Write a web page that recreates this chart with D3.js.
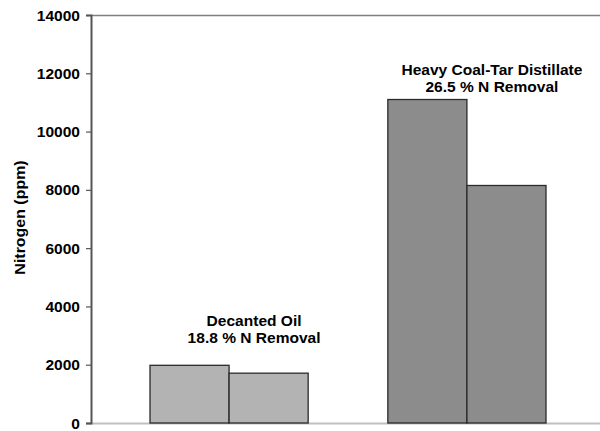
<!DOCTYPE html>
<html>
<head>
<meta charset="utf-8">
<script src="https://cdn.jsdelivr.net/npm/d3@7"></script>
<style>
  html, body { margin: 0; padding: 0; background: #fff; }
  svg { display: block; }
  text { font-family: "Liberation Sans", Arial, sans-serif; font-weight: bold; fill: #000; }
</style>
</head>
<body>
<svg id="chart" width="600" height="431"></svg>
<script>
const categories = ["Decanted Oil", "Heavy Coal-Tar Distillate"];
const seriesNames = ["Feed", "Treated"];
const feedValues = [1980, 11100];
const treatedValues = [1710, 8150];
const annotations = [["Decanted Oil", "18.8 % N Removal"], ["Heavy Coal-Tar Distillate", "26.5 % N Removal"]];
const yTicks = [0, 2000, 4000, 6000, 8000, 10000, 12000, 14000];
const yTitle = "Nitrogen (ppm)";
const categoryColors = ["#b3b3b3", "#8c8c8c"];

(function () {
const svg = d3.select("#chart");
const mLeft = 91, mTop = 15, mBottom = 423, mRight = 600;
const sx = 1.11; // horizontal stretch of the text in the reference

const y = d3.scaleLinear().domain([0, 14000]).range([mBottom, mTop]);
const x0 = d3.scaleBand().domain(categories).range([150, 546]).paddingInner(0.335).paddingOuter(0);
const x1 = d3.scaleBand().domain(seriesNames).range([0, x0.bandwidth()]).padding(0);

// top border
svg.append("line").attr("x1", mLeft).attr("x2", mRight).attr("y1", mTop + 0.5).attr("y2", mTop + 0.5)
  .attr("stroke", "#808080").attr("stroke-width", 1.5);
// bottom axis line
svg.append("line").attr("x1", 86).attr("x2", mRight).attr("y1", mBottom + 0.5).attr("y2", mBottom + 0.5)
  .attr("stroke", "#c0c0c0").attr("stroke-width", 2);

const data = categories.map((c, i) => ({ cat: c, idx: i, vals: [feedValues[i], treatedValues[i]] }));

const groups = svg.append("g").selectAll("g").data(data).join("g")
  .attr("transform", d => `translate(${x0(d.cat)},0)`);
groups.selectAll("rect").data(d => d.vals.map((v, j) => ({ s: seriesNames[j], v, ci: d.idx })))
  .join("rect")
  .attr("x", d => x1(d.s))
  .attr("width", x1.bandwidth())
  .attr("y", d => y(d.v))
  .attr("height", d => y(0) - y(d.v))
  .attr("fill", d => categoryColors[d.ci])
  .attr("stroke", "#2a2a2a").attr("stroke-width", 1.3);

// y axis
const yAxis = d3.axisLeft(y).tickValues(yTicks).tickSize(5).tickPadding(5).tickFormat(d3.format("d"));
const ga = svg.append("g").attr("transform", `translate(${mLeft},0)`).call(yAxis);
ga.select(".domain").attr("stroke", "#555").attr("stroke-width", 2);
ga.selectAll(".tick line").attr("stroke", "#555").attr("stroke-width", 1.2);
ga.selectAll(".tick text")
  .attr("font-size", 14).attr("font-family", "Liberation Sans, Arial, sans-serif")
  .attr("font-weight", "bold").attr("fill", "#000")
  .attr("x", -11 / sx).attr("dy", "0.36em")
  .attr("transform", `scale(${sx},1)`);

// y title
svg.append("text")
  .attr("transform", `translate(25,${217.5}) rotate(-90) scale(1.14,1)`)
  .attr("text-anchor", "middle").attr("font-size", 14)
  .text(yTitle);

// annotations
const annoX = categories.map(c => x0(c) + x0.bandwidth() / 2 + 25);
const annoY = [326, 75];
annotations.forEach((lines, i) => {
  const g = svg.append("g").attr("transform", `translate(${annoX[i]},${annoY[i]}) scale(${sx},1)`);
  lines.forEach((ln, k) => {
    g.append("text").attr("text-anchor", "middle").attr("font-size", 14)
      .attr("x", 0).attr("y", k * 17).text(ln);
  });
});
})();
</script>
</body>
</html>
